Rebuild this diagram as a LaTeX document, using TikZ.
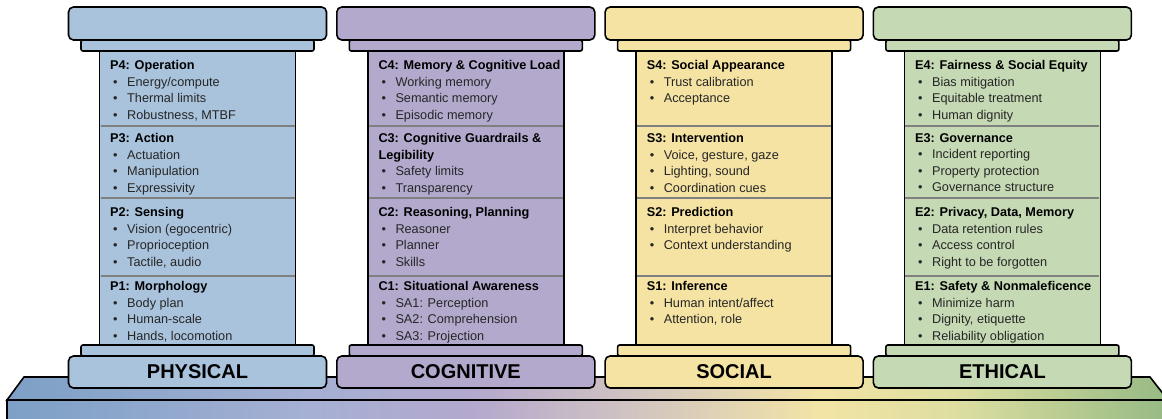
\documentclass[tikz,border=0pt]{standalone}
\usepackage{fontspec}
\setmainfont{Liberation Sans}
\usetikzlibrary{positioning}
\usetikzlibrary{calc}

\definecolor{physfill}{RGB}{169,195,220}
\definecolor{cognfill}{RGB}{179,169,205}
\definecolor{socifill}{RGB}{245,227,163}
\definecolor{ethifill}{RGB}{197,217,180}
\definecolor{divgray}{RGB}{128,128,128}
\definecolor{itemtxt}{RGB}{38,38,38}
\definecolor{plinthA}{RGB}{125,160,198}
\definecolor{plinthB}{RGB}{165,176,212}
\definecolor{plinthC}{RGB}{180,168,206}
\definecolor{plinthD}{RGB}{205,192,196}
\definecolor{plinthE}{RGB}{242,228,165}
\definecolor{plinthF}{RGB}{220,222,160}
\definecolor{plinthG}{RGB}{150,186,132}

\pgfdeclarehorizontalshading{plinth}{100bp}{color(0bp)=(plinthA); color(25bp)=(plinthA);
  color(38bp)=(plinthB); color(45bp)=(plinthC); color(51bp)=(plinthD);
  color(60bp)=(plinthE); color(66bp)=(plinthF); color(75bp)=(plinthG); color(100bp)=(plinthG)}

\newcommand{\hd}[1]{{\color{black}\bfseries #1}}
\newcommand{\bul}[1]{\hspace*{3pt}\makebox[14pt][l]{\textbullet}#1}

\begin{document}
\begin{tikzpicture}[x=1pt, y=-1pt,
	pillarpart/.style = {draw=black, line width=1.6pt, outer sep=0pt, inner sep=0pt},
	capbox/.style = {pillarpart, rounded corners=5pt, minimum width=258pt, minimum height=33pt},
	bandbox/.style = {pillarpart, rounded corners=2pt, minimum width=233pt, minimum height=11pt},
	shaftbox/.style = {pillarpart, minimum width=196pt, minimum height=294pt},
	basebox/.style = {capbox, minimum height=32pt, font=\fontsize{20}{24}\selectfont\bfseries, text=black},
	sect/.style = {anchor=north west, align=left, inner sep=0pt, text=itemtxt,
		font=\fontsize{12.7}{16.4}\selectfont},
	divline/.style = {draw=divgray, line width=1.8pt}]
	\useasboundingbox (0,0) rectangle (1162,419);

	% plinth under the pillars
	\shadedraw[shading=plinth, line width=1.6pt] (24,377) -- (1150,377) -- (1168,400) -- (7,400) -- cycle;
	\shadedraw[shading=plinth, line width=1.6pt] (7,400) rectangle (1168,432);

	% pillars
	\foreach \k/\fc/\lbl in {0/physfill/PHYSICAL, 1/cognfill/COGNITIVE, 2/socifill/SOCIAL, 3/ethifill/ETHICAL} {
		\pgfmathsetmacro{\cx}{197.5+268.3*\k}
		\node (cap\k) [capbox, fill=\fc] at (\cx,23.5) {};
		\node (bandtop\k) [bandbox, fill=\fc, below=0pt of cap\k] {};
		\node (shaft\k) [shaftbox, fill=\fc, below=0pt of bandtop\k] {};
		\node (bandbot\k) [bandbox, fill=\fc, below=0pt of shaft\k] {};
		\node (base\k) [basebox, fill=\fc, below=0pt of bandbot\k] {\lbl};
		\foreach \dy in {75,147,225}
			\draw[divline] ($(shaft\k.north west)+(1,\dy)$) -- ($(shaft\k.north east)+(-1,\dy)$);
	}

	% physical
	\node (p4) [sect, below right=9.5pt and 10.5pt of shaft0.north west]
		{\hd{P4: Operation}\\ \bul{Energy/compute}\\ \bul{Thermal limits}\\ \bul{Robustness, MTBF}};
	\node (p3) [sect, below right=82.5pt and 10.5pt of shaft0.north west]
		{\hd{P3: Action}\\ \bul{Actuation}\\ \bul{Manipulation}\\ \bul{Expressivity}};
	\node (p2) [sect, below right=156.5pt and 10.5pt of shaft0.north west]
		{\hd{P2: Sensing}\\ \bul{Vision (egocentric)}\\ \bul{Proprioception}\\ \bul{Tactile, audio}};
	\node (p1) [sect, below right=230.5pt and 10.5pt of shaft0.north west]
		{\hd{P1: Morphology}\\ \bul{Body plan}\\ \bul{Human-scale}\\ \bul{Hands, locomotion}};

	% cognitive
	\node (c4) [sect, below right=9.5pt and 10.5pt of shaft1.north west]
		{\hd{C4: Memory \& Cognitive Load}\\ \bul{Working memory}\\ \bul{Semantic memory}\\ \bul{Episodic memory}};
	\node (c3) [sect, below right=82.5pt and 10.5pt of shaft1.north west]
		{\hd{C3: Cognitive Guardrails \&}\\ \hd{Legibility}\\ \bul{Safety limits}\\ \bul{Transparency}};
	\node (c2) [sect, below right=156.5pt and 10.5pt of shaft1.north west]
		{\hd{C2: Reasoning, Planning}\\ \bul{Reasoner}\\ \bul{Planner}\\ \bul{Skills}};
	\node (c1) [sect, below right=230.5pt and 10.5pt of shaft1.north west]
		{\hd{C1: Situational Awareness}\\ \bul{SA1: Perception}\\ \bul{SA2: Comprehension}\\ \bul{SA3: Projection}};

	% social
	\node (s4) [sect, below right=9.5pt and 10.5pt of shaft2.north west]
		{\hd{S4: Social Appearance}\\ \bul{Trust calibration}\\ \bul{Acceptance}};
	\node (s3) [sect, below right=82.5pt and 10.5pt of shaft2.north west]
		{\hd{S3: Intervention}\\ \bul{Voice, gesture, gaze}\\ \bul{Lighting, sound}\\ \bul{Coordination cues}};
	\node (s2) [sect, below right=156.5pt and 10.5pt of shaft2.north west]
		{\hd{S2: Prediction}\\ \bul{Interpret behavior}\\ \bul{Context understanding}};
	\node (s1) [sect, below right=230.5pt and 10.5pt of shaft2.north west]
		{\hd{S1: Inference}\\ \bul{Human intent/affect}\\ \bul{Attention, role}};

	% ethical
	\node (e4) [sect, below right=9.5pt and 10.5pt of shaft3.north west]
		{\hd{E4: Fairness \& Social Equity}\\ \bul{Bias mitigation}\\ \bul{Equitable treatment}\\ \bul{Human dignity}};
	\node (e3) [sect, below right=82.5pt and 10.5pt of shaft3.north west]
		{\hd{E3: Governance}\\ \bul{Incident reporting}\\ \bul{Property protection}\\ \bul{Governance structure}};
	\node (e2) [sect, below right=156.5pt and 10.5pt of shaft3.north west]
		{\hd{E2: Privacy, Data, Memory}\\ \bul{Data retention rules}\\ \bul{Access control}\\ \bul{Right to be forgotten}};
	\node (e1) [sect, below right=230.5pt and 10.5pt of shaft3.north west]
		{\hd{E1: Safety \& Nonmaleficence}\\ \bul{Minimize harm}\\ \bul{Dignity, etiquette}\\ \bul{Reliability obligation}};
\end{tikzpicture}
\end{document}
